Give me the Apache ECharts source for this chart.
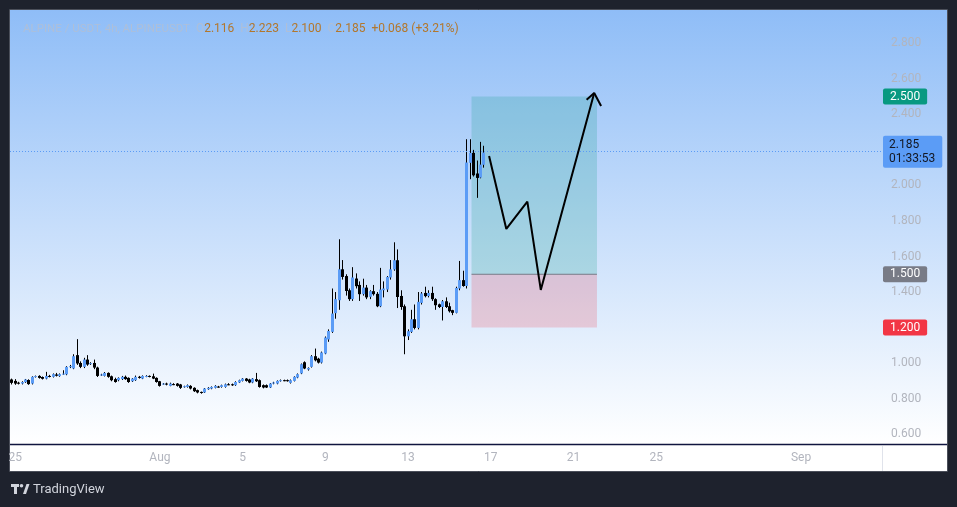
<!DOCTYPE html>
<html>
<head>
<meta charset="utf-8">
<title>ALPINE / USDT, 4h</title>
<script src="https://cdn.jsdelivr.net/npm/echarts@6/dist/echarts.min.js"></script>
<style>
    html, body { margin: 0; padding: 0; background: #1e222d; }
    #chart { width: 957px; height: 507px; }
</style>
</head>
<body>
<div id="chart"></div>
<script>
// 4h bars, first one at Jul 24 20:00, axis runs on into early September
const startTime = Date.UTC(2024, 6, 24, 20)
const slotCount = 253
const slotHours = 4

const tickDates = ['07-25 00:00', '08-01 00:00', '08-05 00:00', '08-09 00:00', '08-13 00:00',
    '08-17 00:00', '08-21 00:00', '08-25 00:00', '09-01 00:00']
const tickLabels = ['25', 'Aug', '5', '9', '13', '17', '21', '25', 'Sep']

// [open, close, low, high]
const ohlc = [
    [0.908, 0.889, 0.880, 0.913], [0.900, 0.885, 0.878, 0.910], [0.890, 0.887, 0.880, 0.895], [0.885, 0.894, 0.880, 0.898],
    [0.893, 0.908, 0.889, 0.911], [0.905, 0.882, 0.878, 0.909], [0.885, 0.923, 0.880, 0.926], [0.923, 0.927, 0.919, 0.930],
    [0.928, 0.917, 0.913, 0.932], [0.922, 0.912, 0.908, 0.925], [0.913, 0.928, 0.909, 0.951], [0.928, 0.926, 0.920, 0.934],
    [0.923, 0.938, 0.919, 0.942], [0.936, 0.929, 0.925, 0.945], [0.927, 0.938, 0.923, 0.942], [0.938, 0.941, 0.934, 0.960],
    [0.937, 0.979, 0.932, 0.983], [0.979, 0.983, 0.972, 0.990], [0.970, 1.039, 0.966, 1.050], [1.045, 0.998, 0.990, 1.135],
    [1.001, 0.979, 0.972, 1.010], [0.979, 1.020, 0.972, 1.030], [1.020, 0.992, 0.985, 1.045], [0.996, 1.000, 0.990, 1.005],
    [1.001, 0.975, 0.966, 1.020], [0.975, 0.928, 0.922, 0.980], [0.932, 0.936, 0.928, 0.940], [0.928, 0.945, 0.925, 0.950],
    [0.945, 0.923, 0.918, 0.948], [0.926, 0.904, 0.898, 0.930], [0.910, 0.894, 0.890, 0.918], [0.904, 0.917, 0.898, 0.920],
    [0.910, 0.923, 0.905, 0.928], [0.923, 0.910, 0.906, 0.930], [0.917, 0.894, 0.889, 0.920], [0.898, 0.913, 0.894, 0.916],
    [0.904, 0.923, 0.900, 0.930], [0.923, 0.917, 0.913, 0.928], [0.913, 0.928, 0.910, 0.931], [0.926, 0.928, 0.921, 0.932],
    [0.928, 0.925, 0.920, 0.931], [0.926, 0.913, 0.910, 0.941], [0.917, 0.894, 0.890, 0.920], [0.898, 0.872, 0.868, 0.900],
    [0.882, 0.885, 0.878, 0.888], [0.885, 0.880, 0.875, 0.890], [0.872, 0.885, 0.870, 0.890], [0.882, 0.880, 0.876, 0.887],
    [0.885, 0.872, 0.868, 0.888], [0.880, 0.861, 0.855, 0.883], [0.866, 0.870, 0.862, 0.873], [0.866, 0.876, 0.862, 0.880],
    [0.872, 0.857, 0.852, 0.876], [0.861, 0.842, 0.838, 0.864], [0.848, 0.835, 0.830, 0.851], [0.838, 0.833, 0.828, 0.840],
    [0.835, 0.857, 0.832, 0.860], [0.853, 0.861, 0.850, 0.865], [0.857, 0.866, 0.853, 0.869], [0.861, 0.872, 0.858, 0.876],
    [0.868, 0.866, 0.862, 0.872], [0.866, 0.876, 0.862, 0.879], [0.866, 0.881, 0.862, 0.885], [0.881, 0.880, 0.876, 0.887],
    [0.881, 0.876, 0.872, 0.885], [0.876, 0.894, 0.872, 0.898], [0.891, 0.904, 0.888, 0.907], [0.900, 0.913, 0.897, 0.916],
    [0.913, 0.900, 0.896, 0.916], [0.908, 0.891, 0.887, 0.912], [0.891, 0.913, 0.887, 0.916], [0.910, 0.898, 0.894, 0.945],
    [0.904, 0.866, 0.862, 0.908], [0.876, 0.863, 0.858, 0.880], [0.876, 0.863, 0.860, 0.880], [0.863, 0.885, 0.860, 0.888],
    [0.885, 0.891, 0.881, 0.895], [0.885, 0.900, 0.881, 0.903], [0.900, 0.904, 0.896, 0.908], [0.904, 0.902, 0.898, 0.907],
    [0.904, 0.900, 0.896, 0.908], [0.889, 0.904, 0.885, 0.908], [0.900, 0.923, 0.897, 0.926], [0.919, 0.938, 0.915, 0.942],
    [0.942, 0.994, 0.938, 0.998], [1.005, 0.970, 0.966, 1.010], [0.964, 0.973, 0.958, 0.976], [0.979, 1.039, 0.975, 1.045],
    [1.039, 1.016, 1.010, 1.082], [1.025, 1.003, 0.998, 1.030], [1.003, 1.060, 0.998, 1.065], [1.054, 1.144, 1.050, 1.150],
    [1.133, 1.181, 1.120, 1.190], [1.176, 1.279, 1.170, 1.420], [1.281, 1.360, 1.250, 1.400], [1.354, 1.528, 1.300, 1.697],
    [1.528, 1.485, 1.470, 1.580], [1.490, 1.406, 1.380, 1.500], [1.410, 1.360, 1.350, 1.420], [1.360, 1.482, 1.350, 1.540],
    [1.476, 1.433, 1.420, 1.505], [1.440, 1.388, 1.350, 1.460], [1.388, 1.425, 1.380, 1.475], [1.425, 1.370, 1.360, 1.440],
    [1.373, 1.405, 1.360, 1.410], [1.405, 1.388, 1.380, 1.440], [1.390, 1.320, 1.315, 1.400], [1.320, 1.414, 1.315, 1.536],
    [1.410, 1.420, 1.370, 1.460], [1.414, 1.485, 1.400, 1.490], [1.482, 1.528, 1.470, 1.580], [1.527, 1.579, 1.520, 1.680],
    [1.579, 1.372, 1.310, 1.640], [1.378, 1.316, 1.300, 1.410], [1.320, 1.151, 1.050, 1.330], [1.151, 1.180, 1.130, 1.190],
    [1.176, 1.247, 1.170, 1.300], [1.247, 1.198, 1.190, 1.330], [1.198, 1.345, 1.190, 1.400], [1.339, 1.392, 1.330, 1.400],
    [1.395, 1.377, 1.370, 1.430], [1.378, 1.395, 1.370, 1.410], [1.395, 1.360, 1.350, 1.430], [1.360, 1.326, 1.300, 1.365],
    [1.331, 1.316, 1.310, 1.335], [1.316, 1.348, 1.240, 1.355], [1.348, 1.316, 1.310, 1.370], [1.320, 1.292, 1.285, 1.340],
    [1.298, 1.283, 1.270, 1.300], [1.283, 1.423, 1.280, 1.430], [1.420, 1.467, 1.410, 1.575], [1.467, 1.434, 1.430, 1.520],
    [1.434, 2.129, 1.420, 2.260], [2.127, 2.183, 2.035, 2.260], [2.183, 2.057, 2.050, 2.200], [2.067, 2.042, 1.930, 2.140],
    [2.044, 2.117, 2.040, 2.245], [2.116, 2.185, 2.100, 2.223]
]

// hand-drawn projection: [bar position, price]
const pathPoints = [[138.5, 2.166], [143.5, 1.755], [149.6, 1.909], [153.5, 1.412], [169.0, 2.52]]
const arrowHead = [[166.8, 2.482], [169.0, 2.52], [171.0, 2.447]]

// long position tool: time span and levels
const boxSpan = [133.4, 169.8]
const targetPrice = 2.5
const entryPrice = 1.5
const stopPrice = 1.2
const lastPrice = 2.185
const countdown = '01:33:53'

const yMin = 0.545
const yMax = 2.987

const pad = n => String(n).padStart(2, '0')
const barTimes = []
for (let i = 0; i < slotCount; i++) {
    const d = new Date(startTime + i * slotHours * 3600 * 1000)
    barTimes.push(pad(d.getUTCMonth() + 1) + '-' + pad(d.getUTCDate()) + ' ' + pad(d.getUTCHours()) + ':00')
}

const font = 'Roboto, "Noto Sans", sans-serif'
const upColor = '#5b9cf6'
const downColor = '#000000'

const chart = echarts.init(document.getElementById('chart'))

const priceTag = (value, bg, color) => ({
    yAxis: value,
    lineStyle: { color: 'rgba(0,0,0,0)', width: 0 },
    label: {
        show: true,
        position: 'end',
        distance: 1,
        formatter: value.toFixed(3),
        backgroundColor: bg,
        color,
        fontFamily: font,
        fontSize: 12,
        lineHeight: 14,
        padding: [1, 7, 1, 7],
        borderRadius: 2,
        align: 'left'
    }
})

const option = {
    backgroundColor: '#1e222d',
    animation: false,
    title: {
        left: 18,
        top: 18,
        text: '{t|ALPINE / USDT, 4h, ALPINEUSDT}  {k|O}{v|2.116}  {k|H}{v|2.223}  {k|L}{v|2.100}  {k|C}{v|2.185}  {v|+0.068 (+3.21%)}',
        textStyle: {
            fontFamily: font,
            fontSize: 12,
            fontWeight: 'normal',
            rich: {
                t: { color: '#aebfd8', fontSize: 11.5, fontFamily: font },
                k: { color: '#aebfd8', fontSize: 12, fontFamily: font },
                v: { color: '#b3772c', fontSize: 12, fontFamily: font }
            }
        }
    },
    grid: { left: 10, right: 75, top: 10, bottom: 63 },
    xAxis: [
        {
            type: 'category',
            data: barTimes,
            boundaryGap: true,
            axisLine: { show: false },
            axisTick: { show: false },
            splitLine: { show: false },
            axisLabel: {
                interval: (index, value) => tickDates.includes(value),
                formatter: value => tickLabels[tickDates.indexOf(value)] || '',
                color: '#b2b5be',
                fontFamily: font,
                fontSize: 12,
                margin: 8
            }
        },
        {
            type: 'value',
            min: -0.5,
            max: slotCount - 0.5,
            show: false
        }
    ],
    yAxis: {
        type: 'value',
        position: 'right',
        min: yMin,
        max: yMax,
        splitNumber: 12,
        axisLine: { show: false },
        axisTick: { show: false },
        splitLine: { show: false },
        axisLabel: {
            color: '#b2b5be',
            fontFamily: font,
            fontSize: 12,
            margin: 9,
            formatter: v => {
                const k = v / 0.2
                return Math.abs(k - Math.round(k)) < 0.01 ? v.toFixed(3) : ''
            }
        }
    },
    series: [
        {
            type: 'custom',
            name: 'ALPINEUSDT',
            z: 4,
            data: ohlc.map((d, i) => [i, d[0], d[1], d[2], d[3]]),
            encode: { x: 0, y: [1, 2, 3, 4] },
            renderItem: (params, api) => {
                const i = api.value(0)
                const o = api.value(1)
                const c = api.value(2)
                const pO = api.coord([i, o])
                const pC = api.coord([i, c])
                const pL = api.coord([i, api.value(3)])
                const pH = api.coord([i, api.value(4)])
                const bodyW = 3
                const left = Math.round(pO[0] - bodyW / 2)
                const mid = left + 1.5
                const top = Math.min(pO[1], pC[1])
                const h = Math.max(1, Math.abs(pO[1] - pC[1]))
                return {
                    type: 'group',
                    children: [
                        {
                            type: 'line',
                            shape: { x1: mid, y1: pH[1], x2: mid, y2: pL[1] },
                            style: { stroke: '#000000', lineWidth: 1 }
                        },
                        {
                            type: 'rect',
                            shape: { x: left, y: top, width: bodyW, height: h },
                            style: { fill: c >= o ? upColor : downColor }
                        }
                    ]
                }
            }
        },
        {
            type: 'line',
            name: 'projection',
            xAxisIndex: 1,
            z: 5,
            data: pathPoints,
            symbol: 'none',
            lineStyle: { color: '#000000', width: 2 },
            markArea: {
                silent: true,
                data: [
                    [
                        { xAxis: boxSpan[0], yAxis: targetPrice, itemStyle: { color: 'rgba(8, 153, 129, 0.2)' } },
                        { xAxis: boxSpan[1], yAxis: entryPrice }
                    ],
                    [
                        { xAxis: boxSpan[0], yAxis: entryPrice, itemStyle: { color: 'rgba(242, 54, 69, 0.2)' } },
                        { xAxis: boxSpan[1], yAxis: stopPrice }
                    ]
                ]
            },
            markLine: {
                silent: true,
                symbol: 'none',
                animation: false,
                data: [
                    {
                        yAxis: lastPrice,
                        lineStyle: { color: upColor, width: 1, type: [1, 2] },
                        label: {
                            show: true,
                            position: 'end',
                            distance: 1,
                            formatter: lastPrice.toFixed(3) + '\n' + countdown,
                            backgroundColor: upColor,
                            color: '#131722',
                            fontFamily: font,
                            fontSize: 12,
                            lineHeight: 14,
                            padding: [2, 7, 2, 6],
                            borderRadius: 2,
                            align: 'left'
                        }
                    },
                    priceTag(targetPrice, '#089981', '#ffffff'),
                    priceTag(entryPrice, '#787b86', '#ffffff'),
                    priceTag(stopPrice, '#f23645', '#ffffff')
                ]
            }
        },
        {
            type: 'line',
            name: 'arrow',
            xAxisIndex: 1,
            z: 5,
            data: arrowHead,
            symbol: 'none',
            lineStyle: { color: '#000000', width: 2 }
        },
        {
            type: 'line',
            name: 'entry',
            xAxisIndex: 1,
            z: 3,
            data: [[boxSpan[0], entryPrice], [boxSpan[1], entryPrice]],
            symbol: 'none',
            lineStyle: { color: '#787b86', width: 1 }
        }
    ],
    graphic: [
        {
            type: 'rect',
            z: -10,
            silent: true,
            shape: { x: 10, y: 10, width: 937, height: 434 },
            style: {
                fill: new echarts.graphic.LinearGradient(0, 0, 0, 1, [
                    { offset: 0, color: '#8fbdf7' },
                    { offset: 1, color: '#ffffff' }
                ])
            }
        },
        {
            type: 'rect',
            z: -10,
            silent: true,
            shape: { x: 10, y: 444, width: 937, height: 27 },
            style: { fill: '#ffffff' }
        },
        {
            type: 'rect',
            z: -9,
            silent: true,
            shape: { x: 9.5, y: 9.5, width: 938, height: 462 },
            style: { fill: 'none', stroke: '#4b4f5a', lineWidth: 1 }
        },
        {
            type: 'line',
            z: 1,
            silent: true,
            shape: { x1: 10, y1: 444.5, x2: 947, y2: 444.5 },
            style: { stroke: '#10153f', lineWidth: 1.5 }
        },
        {
            type: 'line',
            z: 1,
            silent: true,
            shape: { x1: 882.5, y1: 446, x2: 882.5, y2: 471 },
            style: { stroke: '#e0e3eb', lineWidth: 1 }
        },
        // TradingView logo
        {
            type: 'group',
            silent: true,
            children: [
                { type: 'rect', shape: { x: 11, y: 484, width: 8, height: 3 }, style: { fill: '#d1d4dc' } },
                { type: 'rect', shape: { x: 14, y: 484, width: 3, height: 10 }, style: { fill: '#d1d4dc' } },
                { type: 'circle', shape: { cx: 21.5, cy: 485.8, r: 1.8 }, style: { fill: '#d1d4dc' } },
                { type: 'polygon', shape: { points: [[23, 494], [26.5, 484], [29.5, 484], [26, 494]] }, style: { fill: '#d1d4dc' } },
                {
                    type: 'text',
                    style: {
                        x: 33, y: 489.5, text: 'TradingView', fill: '#d1d4dc',
                        font: '13px ' + font, verticalAlign: 'middle'
                    }
                }
            ]
        }
    ]
}

chart.setOption(option)
window.addEventListener('resize', () => chart.resize())
</script>
</body>
</html>
